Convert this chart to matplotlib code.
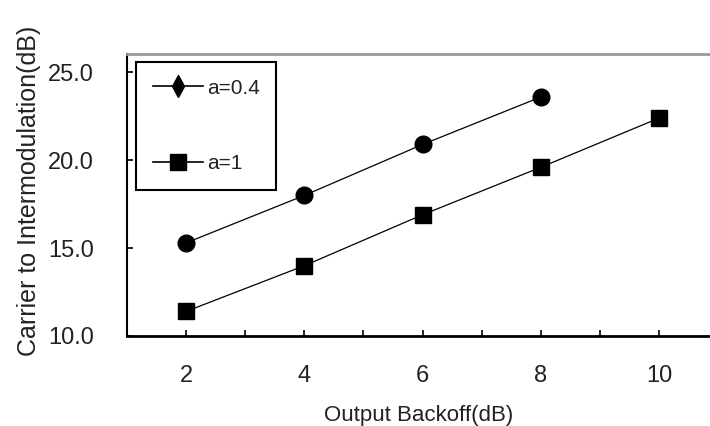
import matplotlib
matplotlib.use("Agg")
import matplotlib.pyplot as plt
from matplotlib.lines import Line2D
from matplotlib.ticker import MultipleLocator, FormatStrFormatter

# data
backoff_a04 = [2, 4, 6, 8]
ci_a04 = [15.3, 18.0, 20.9, 23.6]
backoff_a1 = [2, 4, 6, 8, 10]
ci_a1 = [11.4, 14.0, 16.9, 19.6, 22.4]
labels = ["a=0.4", "a=1"]

font = "Liberation Sans"
txt_color = "#222222"

fig = plt.figure(figsize=(7.1, 4.26), dpi=100)
ax = fig.add_axes([127 / 710, 1 - 336 / 426, 583 / 710, (336 - 54) / 426])

ax.plot(backoff_a04, ci_a04, color="black", lw=0.9, marker="o", ms=12,
        mfc="black", mec="black")
ax.plot(backoff_a1, ci_a1, color="black", lw=0.9, marker="s", ms=11.5,
        mfc="black", mec="black")

ax.set_xlim(1, 1 + 583 / 59.1)
ax.set_ylim(10, 26.05)

ax.xaxis.set_major_locator(MultipleLocator(2))
ax.xaxis.set_minor_locator(MultipleLocator(1))
ax.yaxis.set_major_locator(MultipleLocator(5))
ax.yaxis.set_major_formatter(FormatStrFormatter("%.1f"))

ax.tick_params(axis="x", which="both", direction="in", length=4, width=1.2,
               pad=21, labelsize=17, labelcolor=txt_color)
ax.tick_params(axis="y", direction="in", length=4, width=1.2, pad=24,
               labelsize=17, labelcolor=txt_color)
for t in ax.get_xticklabels() + ax.get_yticklabels():
    t.set_fontfamily(font)

ax.spines["right"].set_visible(False)
ax.spines["top"].set_color("#999999")
ax.spines["top"].set_linewidth(2)
ax.spines["left"].set_linewidth(1.5)
ax.spines["bottom"].set_linewidth(2)

ax.set_xlabel("Output Backoff(dB)", fontsize=16, family=font, color=txt_color)
ax.set_ylabel("Carrier to Intermodulation(dB)", fontsize=18, family=font,
              color=txt_color)
ax.xaxis.set_label_coords(0.5, -(405 - 336) / 282)
ax.yaxis.set_label_coords(-(127 - 41) / 583, 0.5 + 4 / 282)

handles = [
    Line2D([], [], color="black", lw=1.2, marker="d", ms=11, mfc="black"),
    Line2D([], [], color="black", lw=1.2, marker="s", ms=11, mfc="black"),
]
leg = ax.legend(handles, labels, loc="upper left",
                bbox_to_anchor=(136 / 710, 1 - 62 / 426),
                bbox_transform=fig.transFigure,
                prop={"family": font, "size": 15},
                frameon=True, fancybox=False, edgecolor="black", framealpha=1,
                borderpad=0.8, labelspacing=2.7, handlelength=2.4,
                handletextpad=0.2, borderaxespad=0)
leg.get_frame().set_linewidth(1.5)
for t in leg.get_texts():
    t.set_color(txt_color)

fig.savefig("out.png", dpi=100)
